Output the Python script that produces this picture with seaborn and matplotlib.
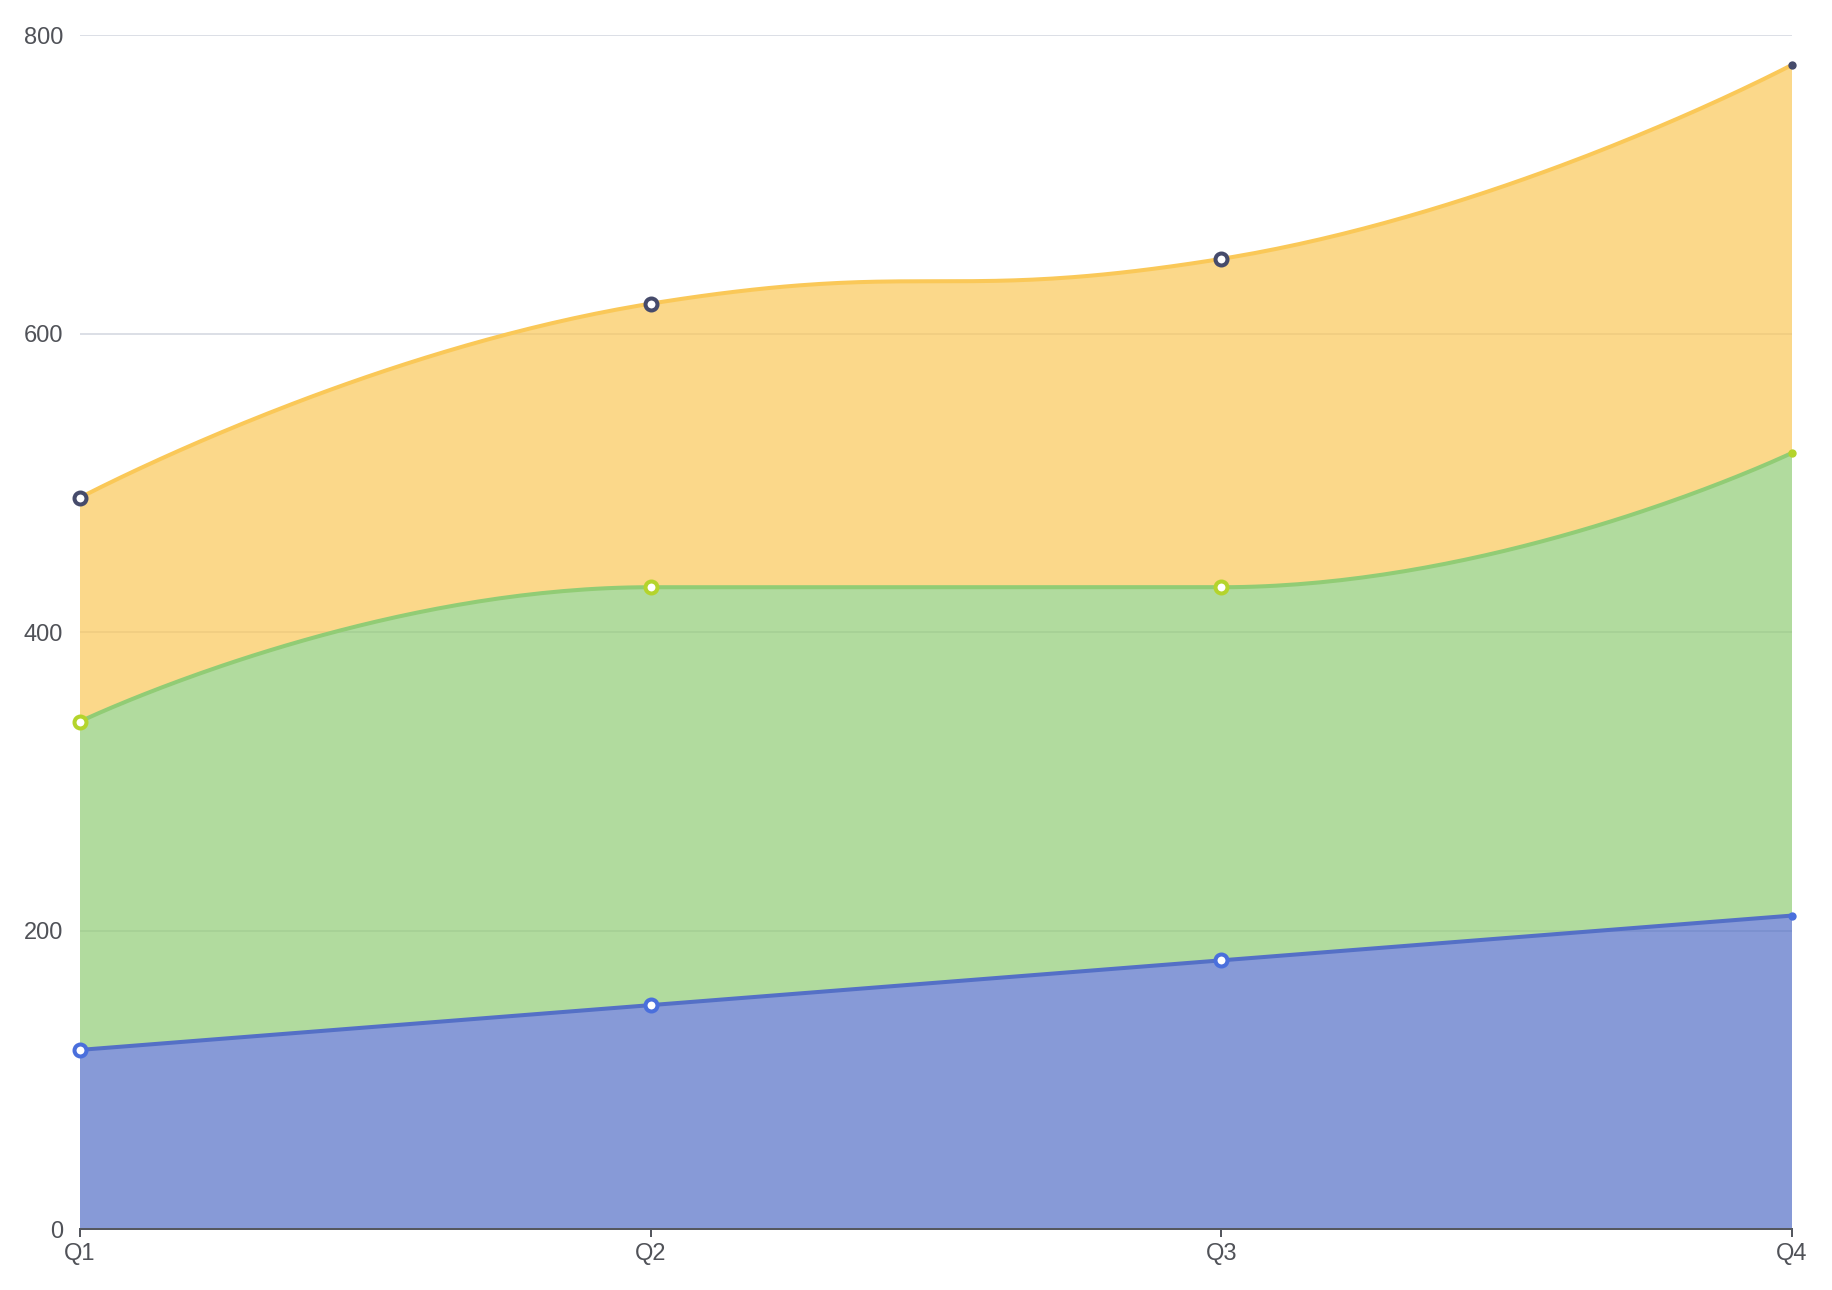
import numpy as np
import matplotlib
matplotlib.use("Agg")
import matplotlib.pyplot as plt
import seaborn as sns

quarters = ["Q1", "Q2", "Q3", "Q4"]
series_a = [120, 150, 180, 210]
series_b = [220, 280, 250, 310]
series_c = [150, 190, 220, 260]
y_ticks = [0, 200, 400, 600, 800]

line_colors = ["#5470c6", "#91cc75", "#fac858"]
point_colors = ["#4a6fdc", "#b4d42c", "#464b6b"]

sns.set_theme(style="white")
plt.rcParams["font.family"] = ["Liberation Sans", "DejaVu Sans"]


def smooth_path(px, py, smooth=0.5):
    # bezier smoothing in pixel space, clamped so curves never overshoot
    n = len(px)
    xs, ys = [px[0]], [py[0]]
    cp0x, cp0y = px[0], py[0]
    t = np.linspace(0, 1, 80)[1:]
    for i in range(1, n):
        x, y = px[i], py[i]
        prx, pry = px[i - 1], py[i - 1]
        if i == n - 1:
            cp1x, cp1y = x, y
            ncx, ncy = x, y
        else:
            nx, ny = px[i + 1], py[i + 1]
            vx, vy = nx - prx, ny - pry
            lp = np.hypot(x - prx, y - pry)
            ln = np.hypot(nx - x, ny - y)
            r = ln / (ln + lp)
            ncx = x + vx * smooth * r
            ncy = y + vy * smooth * r
            ncx = min(max(ncx, min(nx, x)), max(nx, x))
            ncy = min(max(ncy, min(ny, y)), max(ny, y))
            vx, vy = ncx - x, ncy - y
            cp1x = x - vx * lp / ln
            cp1y = y - vy * lp / ln
            cp1x = min(max(cp1x, min(prx, x)), max(prx, x))
            cp1y = min(max(cp1y, min(pry, y)), max(pry, y))
            vx, vy = x - cp1x, y - cp1y
            ncx = x + vx * ln / lp
            ncy = y + vy * ln / lp
        a, b, c, d = (1 - t) ** 3, 3 * (1 - t) ** 2 * t, 3 * (1 - t) * t ** 2, t ** 3
        xs.extend(a * prx + b * cp0x + c * cp1x + d * x)
        ys.extend(a * pry + b * cp0y + c * cp1y + d * y)
        cp0x, cp0y = ncx, ncy
    return np.array(xs), np.array(ys)


fig = plt.figure(figsize=(18.32, 12.90), dpi=100)
ax = fig.add_axes([80 / 1832, 1 - 1229 / 1290, 1712 / 1832, 1194 / 1290])
ax.set_xlim(0, 3)
ax.set_ylim(0, 800)

xi = np.arange(len(quarters))
tops = np.cumsum([series_a, series_b, series_c], axis=0)


def curve(values):
    pts = ax.transData.transform(np.column_stack([xi, values]))
    cx, cy = smooth_path(pts[:, 0], pts[:, 1])
    back = ax.transData.inverted().transform(np.column_stack([cx, cy]))
    return back[:, 0], back[:, 1]


lower_x, lower_y = np.array([0.0, 3.0]), np.array([0.0, 0.0])
for k in range(3):
    ux, uy = curve(tops[k])
    ax.fill(np.concatenate([ux, lower_x[::-1]]), np.concatenate([uy, lower_y[::-1]]),
            color=line_colors[k], alpha=0.7, lw=0, zorder=2)
    sns.lineplot(x=ux, y=uy, sort=False, estimator=None, color=line_colors[k],
                 lw=2.9, ax=ax, zorder=3)
    sns.scatterplot(x=xi[:-1], y=tops[k][:-1], s=74, color="white",
                    edgecolor=point_colors[k], linewidth=2.9, ax=ax, zorder=4,
                    clip_on=False)
    sns.scatterplot(x=xi[-1:], y=tops[k][-1:], s=36, color=point_colors[k],
                    linewidth=0, ax=ax, zorder=4, clip_on=False)
    lower_x, lower_y = ux, uy

ax.set_xticks(xi)
ax.set_xticklabels(quarters)
ax.set_yticks(y_ticks)
ax.set_yticklabels([str(v) for v in y_ticks])
ax.yaxis.grid(True, color="#dcdfe6", lw=1.4, zorder=0)
ax.xaxis.grid(False)
ax.set_axisbelow(True)
for side in ["top", "right", "left"]:
    ax.spines[side].set_visible(False)
ax.spines["bottom"].set_color("#55585f")
ax.spines["bottom"].set_linewidth(1.44)
ax.spines["bottom"].set_zorder(5)
ax.tick_params(axis="x", bottom=True, length=5.8, width=1.44, color="#55585f",
               labelcolor="#505258", labelsize=17, pad=4)
ax.tick_params(axis="y", left=False, length=0, labelcolor="#505258", labelsize=17, pad=12)
ax.set_xlabel("")
ax.set_ylabel("")

fig.savefig("out.png", dpi=100, facecolor="white")
